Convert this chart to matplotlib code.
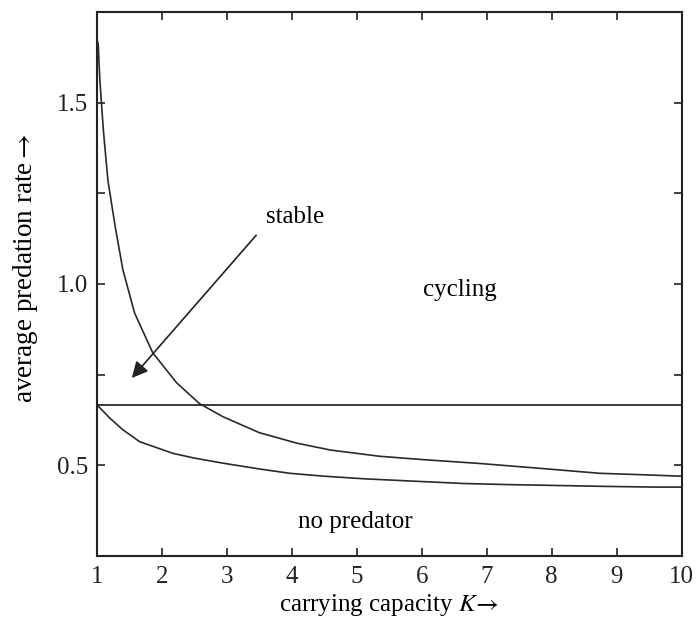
import matplotlib
matplotlib.use("Agg")
import matplotlib.pyplot as plt

# values
k_upper = [1.0, 1.02, 1.046, 1.1, 1.17, 1.28, 1.4, 1.58, 1.86, 2.23, 2.58, 2.94, 3.5, 4.08,
           4.6, 5.35, 6.0, 6.9, 7.8, 8.74, 9.4, 10.0]
rate_upper = [1.675, 1.662, 1.561, 1.423, 1.285, 1.16, 1.039, 0.92, 0.81, 0.727, 0.67, 0.634, 0.59,
              0.561, 0.542, 0.525, 0.516, 0.505, 0.492, 0.478, 0.474, 0.47]

k_lower = [1.0, 1.2, 1.4, 1.66, 2.17, 2.5, 2.94, 3.5, 3.97, 4.5, 5.1, 5.8, 6.63, 7.3, 7.92, 8.8, 9.6, 10.0]
rate_lower = [0.667, 0.63, 0.598, 0.565, 0.533, 0.52, 0.506, 0.49, 0.478, 0.47, 0.463, 0.457, 0.45,
              0.447, 0.445, 0.442, 0.44, 0.44]

no_predator_rate = 0.667

x_ticks = [1, 2, 3, 4, 5, 6, 7, 8, 9, 10]
y_labels = [0.5, 1.0, 1.5]
y_minor = [0.75, 1.25]

plt.rcParams['font.family'] = ['Liberation Serif', 'DejaVu Serif']
plt.rcParams['mathtext.fontset'] = 'stix'

fig = plt.figure(figsize=(6.97, 6.23), dpi=100)
ax = fig.add_axes([0.139, 0.1075, 0.839, 0.8735])

line_col = '#2a2a2a'
ax.plot(k_upper, rate_upper, color=line_col, lw=1.2)
ax.plot(k_lower, rate_lower, color=line_col, lw=1.2)
ax.axhline(no_predator_rate, color=line_col, lw=1.3)

ax.set_xlim(1, 10)
ax.set_ylim(0.25, 1.75)
ax.set_xticks(x_ticks)
ax.set_xticklabels([str(t) for t in x_ticks])
ax.set_yticks(y_labels)
ax.set_yticklabels(['%.1f' % v for v in y_labels])
ax.set_yticks(y_minor, minor=True)
ax.tick_params(which='both', direction='in', top=True, right=True, length=6, width=1.2,
               labelsize=18, colors='#222222')
ax.tick_params(axis='x', pad=7)
ax.tick_params(axis='y', pad=6)
for s in ax.spines.values():
    s.set_linewidth(1.5)
    s.set_color('#222222')

ax.set_xlabel('carrying capacity $K\\!\\rightarrow$', fontsize=18, labelpad=3)
ax.set_ylabel('average predation rate$\\rightarrow$', fontsize=19.5)
ax.yaxis.set_label_coords(-0.098, 0.53)

ax.text(4.05, 1.185, 'stable', fontsize=18, ha='center', va='center')
ax.text(6.58, 0.983, 'cycling', fontsize=18, ha='center', va='center')
ax.text(4.97, 0.345, 'no predator', fontsize=18, ha='center', va='center')
ax.annotate('', xy=(1.51, 0.735), xytext=(3.48, 1.14),
            arrowprops=dict(arrowstyle='-|>', color='#222222', lw=1.2, mutation_scale=24))

fig.savefig('out.png', dpi=100)
